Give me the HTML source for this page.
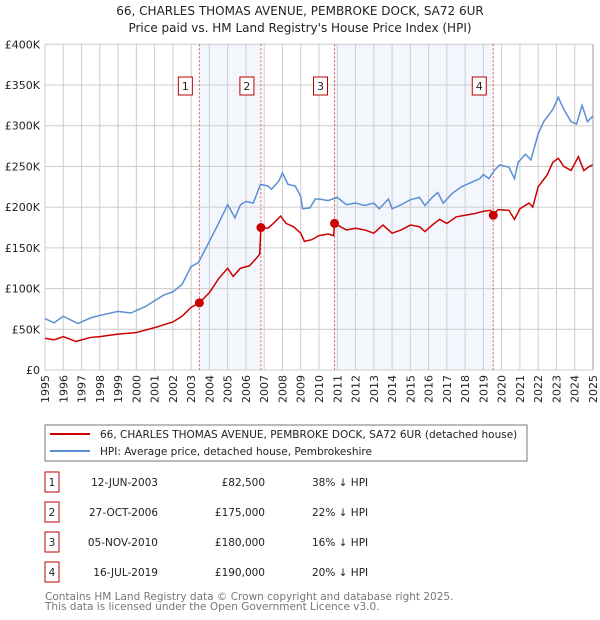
<!DOCTYPE html>
<html><head><meta charset="utf-8"><style>
body{margin:0;background:#fff;font-family:"DejaVu Sans","Liberation Sans",sans-serif;}
svg{display:block}
</style></head><body>
<svg id="c" width="600" height="620" xmlns="http://www.w3.org/2000/svg" font-family="DejaVu Sans, Liberation Sans, sans-serif">
<text x="300" y="15" text-anchor="middle" font-size="12" fill="#222">66, CHARLES THOMAS AVENUE, PEMBROKE DOCK, SA72 6UR</text>
<text x="300" y="32" text-anchor="middle" font-size="12" fill="#222">Price paid vs. HM Land Registry's House Price Index (HPI)</text>
<g id="plot"></g>
<rect x="45" y="425" width="482" height="36" fill="#fff" stroke="#777"/>
<line x1="50" y1="434" x2="90" y2="434" stroke="#cc0000" stroke-width="2"/>
<text x="100" y="438" font-size="10.5" fill="#222">66, CHARLES THOMAS AVENUE, PEMBROKE DOCK, SA72 6UR (detached house)</text>
<line x1="50" y1="451" x2="90" y2="451" stroke="#5b8fd4" stroke-width="2"/>
<text x="100" y="455" font-size="10.5" fill="#222">HPI: Average price, detached house, Pembrokeshire</text>
<g id="table" font-size="10.5" fill="#222"></g>
<text x="45" y="600" font-size="10.5" fill="#777">Contains HM Land Registry data © Crown copyright and database right 2025.</text>
<text x="45" y="610" font-size="10.5" fill="#777">This data is licensed under the Open Government Licence v3.0.</text>
</svg>
<script>
const hpiYears=[1995,1995.5,1996,1996.8,1997.5,1998,1999,1999.7,2000.5,2001,2001.5,2002,2002.5,2003,2003.4,2004,2004.5,2005,2005.4,2005.7,2006,2006.4,2006.8,2007.2,2007.4,2007.8,2008,2008.3,2008.7,2009,2009.1,2009.5,2009.8,2010,2010.5,2011,2011.5,2012,2012.5,2013,2013.3,2013.8,2014,2014.5,2015,2015.5,2015.8,2016.2,2016.5,2016.8,2017.3,2017.8,2018.3,2018.8,2019,2019.3,2019.6,2019.9,2020.4,2020.7,2020.9,2021.3,2021.6,2022,2022.3,2022.8,2023.1,2023.4,2023.8,2024.1,2024.4,2024.7,2025];
const hpiValues=[63,58,66,57,64,67,72,70,78,85,92,96,105,127,132,158,180,203,187,203,207,205,228,226,222,232,242,228,226,213,198,199,210,210,208,212,203,205,202,205,198,210,198,203,209,212,202,212,218,205,217,225,230,235,240,235,245,252,249,235,255,265,258,290,305,320,335,320,305,302,325,305,312];
const ppYears=[1995,1995.5,1996,1996.7,1997,1997.5,1998,1999,2000,2001,2002,2002.5,2003,2003.45,2004,2004.5,2005,2005.3,2005.7,2006.2,2006.6,2006.75,2006.82,2007.2,2007.5,2007.9,2008.2,2008.6,2009,2009.2,2009.6,2010,2010.5,2010.8,2010.85,2011.5,2012,2012.5,2013,2013.5,2014,2014.5,2015,2015.5,2015.8,2016.2,2016.6,2017,2017.5,2018,2018.5,2019,2019.4,2019.54,2019.8,2020.4,2020.7,2021,2021.5,2021.7,2022,2022.5,2022.8,2023.1,2023.4,2023.8,2024.2,2024.5,2024.8,2025];
const ppValues=[39,37,41,35,37,40,41,44,46,52,59,66,77,82.5,95,112,125,115,125,128,138,142,175,174,180,189,180,176,168,158,160,165,167,165,180,172,174,172,168,178,168,172,178,176,170,178,185,180,188,190,192,195,196,190,197,196,185,198,205,200,225,240,255,260,250,245,262,245,250,252];
const saleYears=[2003.45,2006.82,2010.85,2019.54];
const saleValues=[82.5,175,180,190];
const saleLabels=["1","2","3","4"];
const saleDates=["12-JUN-2003","27-OCT-2006","05-NOV-2010","16-JUL-2019"];
const salePrices=["£82,500","£175,000","£180,000","£190,000"];
const saleDiffs=["38% ↓ HPI","22% ↓ HPI","16% ↓ HPI","20% ↓ HPI"];
const yTicks=[0,50,100,150,200,250,300,350,400];
const yTickLabels=["£0","£50K","£100K","£150K","£200K","£250K","£300K","£350K","£400K"];
const NS="http://www.w3.org/2000/svg";
const X0=45,X1=593,Y0=370,Y1=44.3;
const xs=y=>X0+(y-1995)/30*(X1-X0);
const ys=v=>Y0-v/400*(Y0-Y1);
const g=document.getElementById('plot');
function mk(t,a,p){const e=document.createElementNS(NS,t);for(const k in a)e.setAttribute(k,a[k]);(p||g).appendChild(e);return e;}
for(let i=0;i<4;i+=2){
 const r=mk('rect',{x:xs(saleYears[i]),y:Y1,width:xs(saleYears[i+1])-xs(saleYears[i]),height:Y0-Y1,fill:'#eef3fc',opacity:0.7});
 
 
}
for(let y=1995;y<=2025;y++){
 const l=mk('line',{x1:xs(y),x2:xs(y),y1:Y1,y2:Y0,stroke:'#ccc','stroke-width':1});
 
 
 const t=mk('text',{x:0,y:0,'font-size':11,fill:'#222','text-anchor':'end',transform:`translate(${xs(y)+4},${Y0+5}) rotate(-90)`});
 t.textContent=y;
 
 
}
yTicks.forEach((v,i)=>{
 const l=mk('line',{x1:X0,x2:X1,y1:ys(v),y2:ys(v),stroke:'#ccc','stroke-width':1});
 
 
 const t=mk('text',{x:40,y:ys(v)+4,'font-size':11,fill:'#222','text-anchor':'end'});
 t.textContent=yTickLabels[i];
 
 
});
saleYears.forEach((y,i)=>{
 const l=mk('line',{x1:xs(y),x2:xs(y),y1:Y1,y2:Y0,stroke:'#e05555','stroke-width':1,'stroke-dasharray':'2,2'});
 
 
 const b=mk('rect',{x:xs(y)-21,y:77,width:14,height:18,fill:'#fff',stroke:'#bb0000'});
 
 
 const t=mk('text',{x:xs(y)-14,y:90,'font-size':11,fill:'#222','text-anchor':'middle'});
 t.textContent=saleLabels[i];
 
 
});
const hp=mk('polyline',{points:hpiYears.map((y,i)=>xs(y)+','+ys(hpiValues[i])).join(' '),fill:'none',stroke:'#5b8fd4','stroke-width':1.5});


const pp=mk('polyline',{points:ppYears.map((y,i)=>xs(y)+','+ys(ppValues[i])).join(' '),fill:'none',stroke:'#cc0000','stroke-width':1.5});


saleYears.forEach((y,i)=>{
 const c=mk('circle',{cx:xs(y),cy:ys(saleValues[i]),r:4.5,fill:'#cc0000'});
 
 
});
const ax=mk('line',{x1:X1,x2:X1,y1:Y1,y2:Y0,stroke:'#999'});


const tb=document.getElementById('table');
saleLabels.forEach((s,i)=>{
 const yy=482+i*30;
 const b=mk('rect',{x:45,y:yy-10,width:14,height:20,fill:'#fff',stroke:'#bb0000'},tb);
 
 
 const cells=[[52,s,'middle'],[158,saleDates[i],'end'],[265,salePrices[i],'end'],[312,saleDiffs[i],'start']];
 cells.forEach(c=>{
  const t=mk('text',{x:c[0],y:yy+4,'text-anchor':c[2]},tb);
  t.textContent=c[1];
  
  
 });
});
</script>
</body></html>
